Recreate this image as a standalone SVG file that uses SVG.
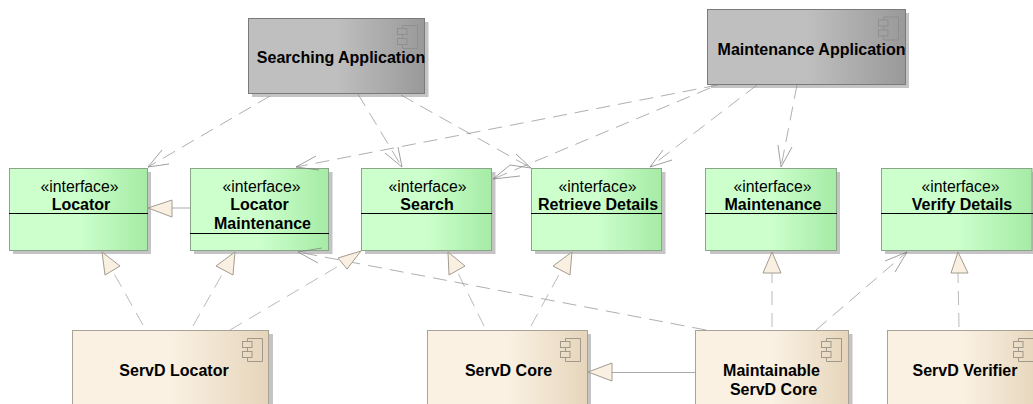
<svg xmlns="http://www.w3.org/2000/svg" width="1033" height="404" viewBox="0 0 1033 404">
<style>
text{font-family:"Liberation Sans",Arial,sans-serif;fill:#000;text-anchor:middle}
.b{font-size:16px;font-weight:bold}
.s{font-size:15.800px}
.sh{fill:#c4c4c4;stroke:none}
.g{fill:url(#gg);stroke:#7a7a7a}
.i{fill:url(#gi);stroke:#8aa58a}
.c{fill:url(#gc);stroke:#a8a297}
.d{stroke:#000;fill:none}
.dash{fill:none;stroke:#8c8c8c;stroke-width:.7;stroke-dasharray:14 8}
.head{fill:none;stroke:#777;stroke-width:.7}
.tri{fill:#f9f0e2;stroke:#999184;stroke-width:.9}
.real{fill:none;stroke:#a8a8a8;stroke-width:.8;stroke-dasharray:14 8}
.solid{fill:none;stroke:#aaa;stroke-width:1}
.ic{fill:none;stroke:#8f8f8f}
.ict{fill:none;stroke:#a0988a}
</style>
<defs>
<linearGradient id="gg"><stop offset="0" stop-color="#bfbfbf"/><stop offset=".5" stop-color="#bfbfbf"/><stop offset="1" stop-color="#999"/></linearGradient>
<linearGradient id="gi"><stop offset="0" stop-color="#ccffcc"/><stop offset=".5" stop-color="#ccffcc"/><stop offset="1" stop-color="#a5eba5"/></linearGradient>
<linearGradient id="gc"><stop offset="0" stop-color="#faf1e3"/><stop offset=".5" stop-color="#faf1e3"/><stop offset="1" stop-color="#e6d5bb"/></linearGradient>
<g id="icon"><path d="M5 3V0H20V23H5V19M5 13V9"/><rect x="0" y="3" width="9.500" height="6"/><rect x="0" y="13" width="9.500" height="6"/></g>
</defs>

<g id="searching-application">
<rect class="sh" x="252" y="22" width="176.500" height="75"/>
<rect class="g" x="248.500" y="18.500" width="176" height="75"/>
<use href="#icon" class="ic" transform="translate(397.500 25.500)"/>
<text class="b" x="341" y="63">Searching Application</text>
</g>
<g id="maintenance-application">
<rect class="sh" x="711" y="13" width="198" height="75"/>
<rect class="g" x="707.500" y="9.500" width="198" height="75"/>
<use href="#icon" class="ic" transform="translate(878.500 17)"/>
<text class="b" x="811.500" y="55">Maintenance Application</text>
</g>

<g id="locator">
<rect class="sh" x="13" y="172" width="138" height="82"/>
<rect class="i" x="9.500" y="168.500" width="138" height="82"/>
<line class="d" x1="9" y1="213.500" x2="148" y2="213.500"/>
<text class="s" x="79.500" y="192">«interface»</text>
<text class="b" x="81" y="210">Locator</text>
</g>
<g id="locator-maintenance">
<rect class="sh" x="194" y="172" width="138.500" height="82"/>
<rect class="i" x="190.500" y="168.500" width="138" height="82"/>
<line class="d" x1="190" y1="233.500" x2="329" y2="233.500"/>
<text class="s" x="261.500" y="192">«interface»</text>
<text class="b" x="259.500" y="210">Locator</text>
<text class="b" x="262.500" y="229">Maintenance</text>
</g>
<g id="search">
<rect class="sh" x="365" y="172" width="130.500" height="82"/>
<rect class="i" x="361.500" y="168.500" width="130" height="82"/>
<line class="d" x1="361" y1="213.500" x2="492" y2="213.500"/>
<text class="s" x="427.500" y="192">«interface»</text>
<text class="b" x="427" y="210">Search</text>
</g>
<g id="retrieve-details">
<rect class="sh" x="535" y="172" width="130.500" height="82"/>
<rect class="i" x="531.500" y="168.500" width="130" height="82"/>
<line class="d" x1="531" y1="213.500" x2="662" y2="213.500"/>
<text class="s" x="597.500" y="192">«interface»</text>
<text class="b" x="598" y="210">Retrieve Details</text>
</g>
<g id="maintenance">
<rect class="sh" x="710" y="172" width="130" height="82"/>
<rect class="i" x="705.500" y="168.500" width="131" height="82"/>
<line class="d" x1="705" y1="213.500" x2="837" y2="213.500"/>
<text class="s" x="772.500" y="192">«interface»</text>
<text class="b" x="773" y="210">Maintenance</text>
</g>
<g id="verify-details">
<rect class="sh" x="885" y="172" width="148" height="82"/>
<rect class="i" x="881.500" y="168.500" width="150.500" height="82"/>
<line class="d" x1="881" y1="213.500" x2="1033" y2="213.500"/>
<text class="s" x="960.500" y="192">«interface»</text>
<text class="b" x="962" y="210">Verify Details</text>
</g>

<g id="servd-locator">
<rect class="sh" x="76" y="334" width="197" height="70"/>
<rect class="c" x="72.500" y="330.500" width="196" height="75"/>
<use href="#icon" class="ict" transform="translate(242.500 338.500)"/>
<text class="b" x="174" y="376">ServD Locator</text>
</g>
<g id="servd-core">
<rect class="sh" x="431" y="334" width="160" height="70"/>
<rect class="c" x="427.500" y="330.500" width="160" height="75"/>
<use href="#icon" class="ict" transform="translate(560.500 338.500)"/>
<text class="b" x="508.500" y="376">ServD Core</text>
</g>
<g id="maintainable-servd-core">
<rect class="sh" x="699" y="334" width="153.500" height="70"/>
<rect class="c" x="695.500" y="330.500" width="153" height="75"/>
<use href="#icon" class="ict" transform="translate(821.500 338.500)"/>
<text class="b" x="771.500" y="376">Maintainable</text>
<text class="b" x="773.500" y="395">ServD Core</text>
</g>
<g id="servd-verifier">
<rect class="sh" x="891" y="334" width="142" height="70"/>
<rect class="c" x="887.500" y="330.500" width="152" height="75"/>
<use href="#icon" class="ict" transform="translate(1013.500 338.500)"/>
<text class="b" x="965" y="376">ServD Verifier</text>
</g>

<g id="connectors">
<path class="dash" d="M270 96L148 167"/>
<path class="head" d="M162 150L148 167L169 164"/>
<path class="dash" d="M358 94L402 167"/>
<path class="head" d="M385 153L402 167L398 147"/>
<path class="dash" d="M401 95L531 168"/>
<path class="head" d="M516 154L531 168L510 165"/>
<path class="dash" d="M718 85L296 167"/>
<path class="head" d="M316 156L296 167L319 170"/>
<path class="dash" d="M710 88L493 179"/>
<path class="head" d="M510 165L493 179L520 176"/>
<path class="dash" d="M757 85L650 167"/>
<path class="head" d="M663 150L650 167L672 160"/>
<path class="dash" d="M797 85L781 167"/>
<path class="head" d="M778 145L781 167L792 147"/>
<path class="dash" d="M706 330L298 252"/>
<path class="head" d="M318 263L298 252L322 248"/>
<path class="dash" d="M816 330L907 252"/>
<path class="head" d="M885 261L907 252L895 272"/>

<path class="solid" d="M190 208H172"/>
<path class="tri" d="M148 208L172 200V217Z"/>
<path class="real" d="M143 325L112 270"/>
<path class="tri" d="M102 252L105 275L120 266Z"/>
<path class="real" d="M193 326L224 271"/>
<path class="tri" d="M235 252L216 266L233 275Z"/>
<path class="real" d="M230 330L342 264"/>
<path class="tri" d="M361 251L338 258L347 269Z"/>
<path class="real" d="M484 326L457 271"/>
<path class="tri" d="M448 252L449 275L465 266Z"/>
<path class="real" d="M531 326L561 271"/>
<path class="tri" d="M572 252L553 266L570 275Z"/>
<path class="real" d="M772 327V273"/>
<path class="tri" d="M772 252L763 273H781Z"/>
<path class="real" d="M959 327L958 273"/>
<path class="tri" d="M958 252L951 273H968Z"/>
<path class="solid" d="M695 372.500H612"/>
<path class="tri" d="M588 372L612 363V381Z"/>
</g>
</svg>
